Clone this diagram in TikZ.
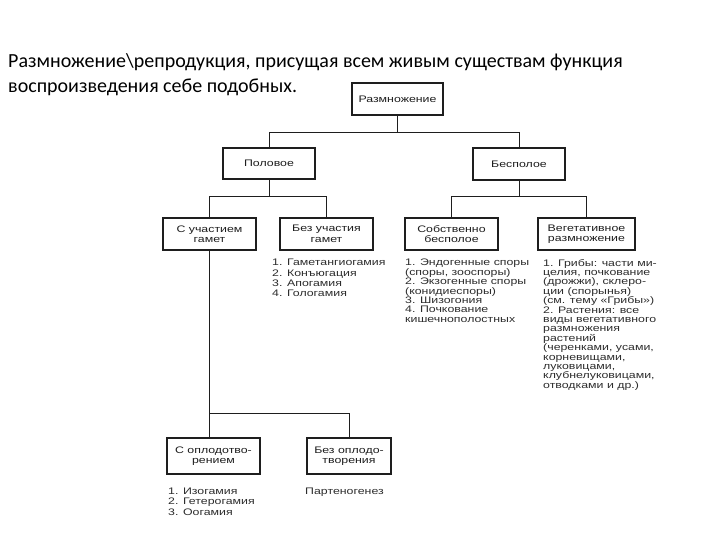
\documentclass[tikz,border=0pt]{standalone}
\usepackage{fontspec}
\usepackage{tikz}
\usetikzlibrary{positioning,calc}
\setmainfont{Carlito}
\newfontfamily\schemefont{Liberation Sans}[FakeStretch=1.3]
\definecolor{ink}{RGB}{30,30,30}
\definecolor{listink}{RGB}{45,45,45}

\begin{document}
\begin{tikzpicture}[x=1pt, y=-1pt,
  box/.style={draw=ink, line width=1.2pt, minimum width=93pt, minimum height=32pt,
    inner sep=2pt, align=center, text=ink, font=\schemefont\fontsize{9.5}{10.5}\selectfont},
  list/.style={anchor=north west, inner sep=0pt, align=left, text=listink,
    font=\schemefont\fontsize{9.5}{9.4}\selectfont},
  link/.style={draw=ink, line width=0.8pt}]
  \fill[white] (0,0) rectangle (720,540);
  \useasboundingbox (0,0) rectangle (720,540);

  % title
  \node[anchor=west, align=left, inner sep=0pt, font=\fontsize{20}{25}\selectfont] (title) at (8,75)
    {Размножение\textbackslash репродукция, присущая всем живым существам функция\\
     воспроизведения себе подобных.};

  % boxes
  \node[box, minimum width=91pt] (razm) at (397.5,99) {Размножение};
  \node[box, minimum width=92pt, minimum height=31pt] (polov) at (269,163.5) {Половое};
  \node[box, minimum width=92pt] (bespol) at (519,164) {Бесполое};
  \node[box] (sgamet) at (209.5,234) {С участием\\гамет};
  \node[box] (bezgamet) at (326.5,234) {Без участия\\гамет};
  \node[box] (sobstv) at (451.5,234) {Собственно\\бесполое};
  \node[box, minimum width=97pt] (veget) at (586.5,234) {Вегетативное\\размножение};
  \node[box, minimum height=36pt] (soplod) at (213.5,456) {С оплодотво-\\рением};
  \node[box, minimum width=84pt, minimum height=36pt] (bezoplod) at (349,456) {Без оплодо-\\творения};

  % lists
  \node[list, font=\schemefont\fontsize{9.5}{10.3}\selectfont] (lbezgamet) at (272,259)
    {1. Гаметангиогамия\\2. Конъюгация\\3. Апогамия\\4. Гологамия};
  \node[list] (lsobstv) at (405,259) {1. Эндогенные споры\\(споры, зооспоры)\\2. Экзогенные споры\\(конидиеспоры)\\3. Шизогония\\4. Почкование\\кишечнополостных};
  \node[list] (lveget) at (543,259) {1. Грибы: части ми-\\целия, почкование\\(дрожжи), склеро-\\ции (спорынья)\\(см. тему «Грибы»)\\2. Растения: все\\виды вегетативного\\размножения\\растений\\(черенками, усами,\\корневищами,\\луковицами,\\клубнелуковицами,\\отводками и др.)};
  \node[list, font=\schemefont\fontsize{9.5}{10.2}\selectfont] (lsoplod) at (168,488)
    {1. Изогамия\\2. Гетерогамия\\3. Оогамия};
  \node[list] (lbezoplod) at (305,488) {Партеногенез};

  % connectors
  \coordinate (bar1) at (0,132);
  \coordinate (bar2) at (0,196);
  \coordinate (bar3) at (0,413);
  \draw[link] (razm.south) -- (razm.south |- bar1);
  \draw[link] (polov.north) |- (bar1 -| bespol.north) -- (bespol.north);
  \draw[link] (polov.south) -- (polov.south |- bar2);
  \draw[link] (sgamet.north) |- (bar2 -| bezgamet.north) -- (bezgamet.north);
  \draw[link] (bespol.south) -- (bespol.south |- bar2);
  \draw[link] (sobstv.north) |- (bar2 -| veget.north) -- (veget.north);
  \draw[link] (sgamet.south) -- (sgamet.south |- soplod.north);
  \draw[link] (sgamet.south |- bar3) -| (bezoplod.north);
\end{tikzpicture}
\end{document}
